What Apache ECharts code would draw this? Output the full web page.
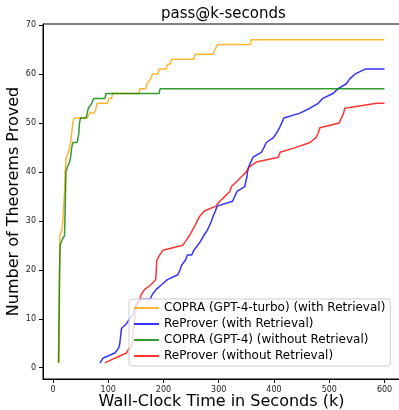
<!DOCTYPE html>
<html>
<head>
<meta charset="utf-8">
<style>
  html, body { margin: 0; padding: 0; background: #fff; }
  #chart { width: 399px; height: 410px; }
</style>
<script src="https://cdn.jsdelivr.net/npm/echarts@6/dist/echarts.min.js"></script>
</head>
<body>
<div id="chart"></div>
<script>
// series names, in legend order
const seriesNames = [
  'COPRA (GPT-4-turbo) (with Retrieval)',
  'ReProver (with Retrieval)',
  'COPRA (GPT-4) (without Retrieval)',
  'ReProver (without Retrieval)'
]
const colorMap = ['#ffa500', '#0000ff', '#008000', '#ff0000']

// COPRA (GPT-4-turbo) with retrieval
const copraTurboTime = [11, 12.5, 16, 18, 21, 22, 24, 28, 30, 32, 33, 34, 35, 36, 38, 62, 66, 75, 78, 80, 99, 101, 106, 108, 156, 157, 168, 170, 177, 180, 190, 192, 205, 207, 212, 215, 255, 257, 290, 293, 298, 357, 359, 600]
const copraTurboCount = [1, 27, 28, 30, 36, 40, 43, 44, 45, 46, 47, 48, 49, 50, 51, 51, 52, 52, 53, 54, 54, 55, 55, 56, 56, 57, 57, 58, 59, 60, 60, 61, 61, 62, 62, 63, 63, 64, 64, 65, 66, 66, 67, 67]

// ReProver with retrieval
const reproverTime = [85, 91, 112, 119, 121, 122, 124, 133, 139, 145, 148, 151, 160, 176, 180, 187, 197, 207, 226, 230, 233, 240, 243, 251, 255, 262, 268, 273, 279, 283, 287, 290, 294, 297, 325, 329, 333, 347, 349, 351, 352, 354, 358, 362, 377, 382, 386, 399, 405, 410, 414, 418, 447, 465, 480, 488, 507, 516, 531, 537, 547, 565, 600]
const reproverCount = [1, 2, 3, 4, 5, 6, 8, 9, 10, 11, 12, 13, 14, 14, 15, 16, 17, 18, 19, 20, 21, 22, 23, 23, 24, 25, 26, 27, 28, 29, 30, 31, 32, 33, 34, 35, 36, 37, 38, 39, 40, 41, 42, 43, 44, 45, 46, 47, 48, 49, 50, 51, 52, 53, 54, 55, 56, 57, 58, 59, 60, 61, 61]

// COPRA (GPT-4) without retrieval
const copraTime = [10, 12, 13, 16, 21, 22, 23.5, 26, 30, 32, 34, 36, 44, 47, 48, 50, 60, 62, 64, 67, 70, 74, 94, 96, 192, 194, 600]
const copraCount = [1, 20, 25, 26, 27, 32, 40, 41, 42, 43, 45, 46, 46, 48, 50, 51, 51, 52, 53, 53, 54, 55, 55, 56, 56, 57, 57]

// ReProver without retrieval
const reproverNoRetTime = [94, 113, 133, 138, 142, 144, 146, 148, 150, 152, 157, 160, 166, 178, 186, 187, 188, 193, 199, 235, 241, 247, 252, 257, 261, 266, 274, 295, 302, 311, 320, 323, 332, 341, 350, 355, 368, 408, 411, 440, 465, 476, 480, 483, 518, 522, 526, 528, 586, 600]
const reproverNoRetCount = [1, 2, 3, 4, 4, 6, 8, 10, 12, 13, 14, 15, 16, 17, 18, 20, 22, 23, 24, 25, 26, 27, 28, 29, 30, 31, 32, 33, 34, 35, 36, 37, 38, 39, 40, 41, 42, 43, 44, 45, 46, 47, 48, 49, 50, 51, 52, 53, 54, 54]

// tick labels
const xTicks = [0, 100, 200, 300, 400, 500, 600]
const yTicks = [0, 10, 20, 30, 40, 50, 60, 70]

function pairs(xs, ys) {
  return xs.map((x, i) => [x, ys[i]])
}

const seriesData = [
  pairs(copraTurboTime, copraTurboCount),
  pairs(reproverTime, reproverCount),
  pairs(copraTime, copraCount),
  pairs(reproverNoRetTime, reproverNoRetCount)
]

const font = 'DejaVu Sans'
const chart = echarts.init(document.getElementById('chart'))

const series = seriesData.map((data, i) => ({
  name: seriesNames[i],
  type: 'line',
  data: data,
  symbol: 'none',
  showSymbol: false,
  animation: false,
  lineStyle: { color: colorMap[i], width: 1.5, opacity: 0.8 },
  itemStyle: { color: colorMap[i], opacity: 0.8 }
}))

chart.setOption({
  animation: false,
  title: {
    text: 'pass@k-seconds',
    left: 156,
    top: 2,
    textStyle: { fontFamily: font, fontSize: 15, fontWeight: 'normal', color: '#000' }
  },
  grid: {
    left: 43,
    right: -1,
    top: 24,
    bottom: 31,
    outerBoundsMode: 'none',
    containLabel: false,
    show: true,
    borderColor: '#000',
    borderWidth: 1
  },
  legend: {
    orient: 'vertical',
    left: 129,
    top: 299,
    data: seriesNames,
    itemWidth: 25,
    itemHeight: 14,
    itemGap: 4,
    itemTextGap: 10,
    padding: [3, 5, 4, 4],
    backgroundColor: 'rgba(255,255,255,0.8)',
    borderColor: '#cccccc',
    borderWidth: 1,
    borderRadius: 3,
    selectedMode: false,
    itemStyle: { opacity: 0 },
    lineStyle: { width: 2 },
    textStyle: { fontFamily: font, fontSize: 12, color: '#000' }
  },
  xAxis: {
    type: 'value',
    min: -18,
    max: 628,
    name: 'Wall-Clock Time in Seconds (k)',
    nameLocation: 'middle',
    nameGap: 15,
    nameMoveOverlap: false,
    nameTextStyle: { fontFamily: font, fontSize: 16, color: '#000' },
    axisLine: { onZero: false, lineStyle: { color: '#000', width: 1 } },
    axisTick: { customValues: xTicks, length: 4, lineStyle: { color: '#000' } },
    axisLabel: { customValues: xTicks, fontFamily: font, fontSize: 8, color: '#222', margin: 7 },
    splitLine: { show: false }
  },
  yAxis: {
    type: 'value',
    min: -2.3,
    max: 70.2,
    name: 'Number of Theorems Proved',
    nameLocation: 'middle',
    nameGap: 21,
    nameMoveOverlap: false,
    nameTextStyle: { fontFamily: font, fontSize: 16, color: '#000' },
    axisLine: { show: true, onZero: false, lineStyle: { color: '#000', width: 1 } },
    axisTick: { show: true, customValues: yTicks, length: 4, lineStyle: { color: '#000' } },
    axisLabel: { customValues: yTicks, fontFamily: font, fontSize: 8, color: '#222', margin: 7 },
    splitLine: { show: false }
  },
  series: series
})
</script>
</body>
</html>
